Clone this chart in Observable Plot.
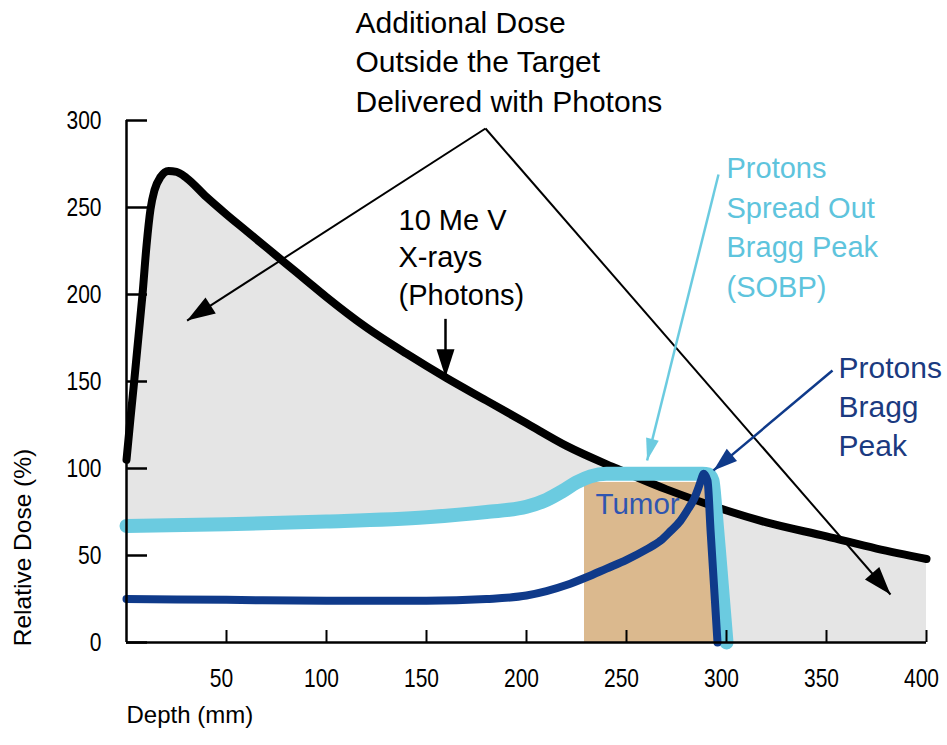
<!DOCTYPE html>
<html>
<head>
<meta charset="utf-8">
<script src="https://cdn.jsdelivr.net/npm/d3@7"></script>
<script src="https://cdn.jsdelivr.net/npm/@observablehq/plot@0.6"></script>
<style>
  html, body { margin: 0; padding: 0; background: #fff; }
  #chart svg { display: block; }
</style>
</head>
<body>
<div id="chart"></div>
<script>
// ---------- data ----------
const xTicks = [50, 100, 150, 200, 250, 300, 350, 400];
const yTicks = [0, 50, 100, 150, 200, 250, 300];

// 10 MeV X-rays (photons)
const photonDepth = [0, 2, 4, 6, 8, 10, 12, 14, 17, 21, 25, 30, 40, 50, 60, 70, 80, 90, 100, 120, 140, 160, 180, 200, 220, 245, 270, 297, 320, 350, 375, 400];
const photonDose  = [105, 129, 152, 176, 200, 228, 249, 260, 267.5, 271, 270.5, 267, 256, 246, 236.5, 227, 217.5, 208, 198.5, 181, 166, 152, 139, 126, 113, 100, 88, 77, 69, 61, 54, 48];

// Protons spread out Bragg peak (SOBP)
const sobpDepth = [0, 50, 100, 150, 180, 200, 210, 218, 225, 232, 240, 288, 291, 293, 294.5, 297, 300];
const sobpDose  = [67, 68, 69.5, 72, 75, 78, 82, 87, 92, 95.5, 97, 97, 96.5, 93, 76, 42, 0];

// Protons pristine Bragg peak
const braggDepth = [0, 50, 100, 150, 180, 200, 210, 220, 230, 240, 250, 260, 267, 272, 277, 281, 284, 286, 287.5, 288.5, 290.5, 292, 294, 295.5];
const braggDose  = [25, 24.5, 24, 24, 25, 27, 29.5, 33, 37.5, 42.5, 47.5, 53.5, 58.5, 64, 70, 77, 83, 89, 94, 97, 93, 65, 28, 0];

// Tumor region
const tumorDepth = [229, 295];
const tumorDose = [0, 92];

// Annotation texts
const labelIds   = ["extra", "photon", "sobp", "bragg", "tumor"];
const labelTexts = [
  "Additional Dose\nOutside the Target\nDelivered with Photons",
  "10 Me V\nX-rays\n(Photons)",
  "Protons\nSpread Out\nBragg Peak\n(SOBP)",
  "Protons\nBragg\nPeak",
  "Tumor"
];
const labelDepth = [114.5, 136, 300, 356, 234.5];
const labelDose  = [335, 222.4, 240, 136.8, 79.3];

// Annotation arrows (from -> to, in depth / dose units)
const arrowIds = ["extraLeft", "extraRight", "photon", "sobp", "bragg"];
const arrowFromDepth = [179.5, 179.5, 159.5, 296, 353];
const arrowFromDose  = [295.4, 295.4, 186, 269, 156.3];
const arrowToDepth   = [30.3, 382, 159.5, 260.3, 293.5];
const arrowToDose    = [185, 27.6, 152.5, 104.6, 98.9];

// ---------- styles ----------
const W = 947, H = 745, ML = 126, MR = 21, MT = 120, MB = 103;
const kx = (W - ML - MR) / 400, ky = (H - MT - MB) / 300;
const FONT = "'Liberation Sans', Arial, Helvetica, sans-serif";
const CONDENSE = 0.84;   // axis texts use a condensed face in the reference

const C = {
  gray: "#e5e5e5", black: "#000", sobp: "#6bcbe0", sobpText: "#5ec4dd",
  bragg: "#0f3a8a", braggText: "#1b3a80", tumorFill: "#dbb98e", tumorText: "#2f55b0"
};
const labelStyle = {
  extra:  {fill: C.black, fontSize: 30, lineHeight: 1.32},
  photon: {fill: C.black, fontSize: 29, lineHeight: 1.28},
  sobp:   {fill: C.sobpText, fontSize: 29, lineHeight: 1.37},
  bragg:  {fill: C.braggText, fontSize: 30, lineHeight: 1.3},
  tumor:  {fill: C.tumorText, fontSize: 29.5, lineHeight: 1}
};
const arrowStyle = {
  extraLeft:  {color: C.black, width: 2, len: 28, wid: 19},
  extraRight: {color: C.black, width: 2, len: 28, wid: 19},
  photon:     {color: C.black, width: 2.5, len: 28, wid: 18},
  sobp:       {color: C.sobp, width: 2.5, len: 22, wid: 13},
  bragg:      {color: C.bragg, width: 2.5, len: 24, wid: 16}
};

// ---------- build tables ----------
const photon = photonDepth.map((d, i) => ({depth: d, dose: photonDose[i]}));
const sobp = sobpDepth.map((d, i) => ({depth: d, dose: sobpDose[i]}));
const bragg = braggDepth.map((d, i) => ({depth: d, dose: braggDose[i]}));
const tumor = [{x1: tumorDepth[0], x2: tumorDepth[1], y1: tumorDose[0], y2: tumorDose[1]}];
const labels = labelIds.map((id, i) => ({id, text: labelTexts[i], x: labelDepth[i], y: labelDose[i]}));
const arrows = arrowIds.map((id, i) => ({id, x1: arrowFromDepth[i], y1: arrowFromDose[i], x2: arrowToDepth[i], y2: arrowToDose[i]}));

function headSymbol(len, wid) {
  return {draw(ctx) { ctx.moveTo(0, 0); ctx.lineTo(wid / 2, len); ctx.lineTo(-wid / 2, len); ctx.closePath(); }};
}
function angle(a) {
  const dx = (a.x2 - a.x1) * kx, dy = -(a.y2 - a.y1) * ky;
  return Math.atan2(dx, -dy) * 180 / Math.PI;
}

const arrowMarks = arrows.flatMap(a => {
  const s = arrowStyle[a.id];
  return [
    Plot.link([a], {x1: "x1", y1: "y1", x2: "x2", y2: "y2", stroke: s.color, strokeWidth: s.width}),
    Plot.dot([a], {x: "x2", y: "y2", symbol: headSymbol(s.len, s.wid), r: 5, fill: s.color, stroke: "none", rotate: angle})
  ];
});
const labelMarks = labels.map(l => {
  const s = labelStyle[l.id];
  return Plot.text([l], {x: "x", y: "y", text: "text", textAnchor: "start", lineAnchor: "middle",
    fill: s.fill, fontSize: s.fontSize, lineHeight: s.lineHeight, fontFamily: FONT});
});

const chart = Plot.plot({
  width: W, height: H,
  marginLeft: ML, marginRight: MR, marginTop: MT, marginBottom: MB,
  x: {domain: [0, 400]},
  y: {domain: [0, 300]},
  style: {fontFamily: FONT, fontSize: "21px", background: "#fff", color: "#000", overflow: "visible"},
  marks: [
    Plot.areaY(photon, {x: "depth", y: "dose", fill: C.gray, curve: "monotone-x"}),
    Plot.areaY(sobp, {x: "depth", y: "dose", fill: "#fff", curve: "monotone-x"}),
    Plot.rect(tumor, {x1: "x1", x2: "x2", y1: "y1", y2: "y2", fill: C.tumorFill}),
    Plot.line(photon, {x: "depth", y: "dose", stroke: C.black, strokeWidth: 8, curve: "monotone-x", strokeLinejoin: "round"}),
    Plot.line(sobp, {x: "depth", y: "dose", stroke: C.sobp, strokeWidth: 14, curve: "monotone-x", strokeLinejoin: "round"}),
    Plot.line(bragg, {x: "depth", y: "dose", stroke: C.bragg, strokeWidth: 8, curve: "monotone-x", strokeLinejoin: "round"}),
    ...arrowMarks,
    ...labelMarks,
    // axes
    Plot.tickY(yTicks, {y: d => d, stroke: "#000", strokeWidth: 2.5, insetRight: (W - ML - MR) - 21}),
    Plot.tickX(xTicks, {x: d => d, stroke: "#000", strokeWidth: 2, insetTop: (H - MT - MB) - 12}),
    Plot.ruleX([0], {stroke: "#000", strokeWidth: 2.5}),
    Plot.ruleY([0], {stroke: "#000", strokeWidth: 2.5}),
    Plot.axisY(yTicks, {anchor: "left", tickSize: 0, tickPadding: 25, fontSize: 25, label: null}),
    Plot.axisX(xTicks, {anchor: "bottom", tickSize: 0, tickPadding: 27, fontSize: 25, dx: -5, label: null}),
    Plot.text(["Depth (mm)"], {frameAnchor: "bottom-left", dy: 80, textAnchor: "start", text: d => d, fontSize: 24, ariaLabel: "axis title"}),
    Plot.text(["Relative Dose (%)"], {frameAnchor: "bottom-left", dx: -96, dy: -95, rotate: -90, textAnchor: "middle", text: d => d, fontSize: 24.5, ariaLabel: "axis title"})
  ]
});
document.getElementById("chart").appendChild(chart);

// condense the axis texts horizontally, like the narrow face of the reference
chart.querySelectorAll('g[aria-label="x-axis tick label"] text, g[aria-label="y-axis tick label"] text, g[aria-label="axis title"] text')
  .forEach(t => {
    const len = t.getComputedTextLength();
    t.setAttribute("textLength", (len * CONDENSE).toFixed(1));
    t.setAttribute("lengthAdjust", "spacingAndGlyphs");
  });
</script>
</body>
</html>
